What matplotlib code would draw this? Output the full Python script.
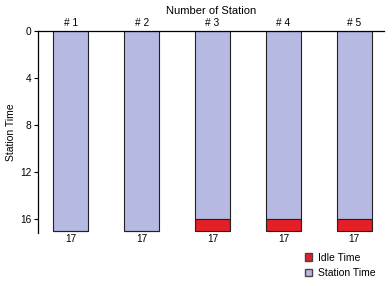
import numpy as np
import matplotlib.pyplot as plt
from matplotlib.patches import Patch

plt.rcParams['font.family'] = ['Liberation Sans', 'DejaVu Sans']

stations = ['# 1', '# 2', '# 3', '# 4', '# 5']
station_time = [17, 17, 16, 16, 16]
idle_time = [0, 0, 1, 1, 1]
totals = [s + i for s, i in zip(station_time, idle_time)]

LAV = '#b6bae2'
RED = '#e41f26'

fig = plt.figure(figsize=(3.92, 2.86), dpi=100)
ax = fig.add_axes([0.097, 0.185, 0.883, 0.707])

x = np.arange(len(stations))
w = 0.49
ax.bar(x, station_time, w, color=LAV, edgecolor='#222222', linewidth=0.8)
ax.bar(x, idle_time, w, bottom=station_time, color=RED, edgecolor='#222222', linewidth=0.8)

for xi, t in zip(x, totals):
    ax.text(xi, t + 0.3, str(t), ha='center', va='top', fontsize=7.3)

ax.set_ylim(17.2, 0)
ax.set_xlim(-0.46, 4.42)
ax.set_yticks([0, 4, 8, 12, 16])
ax.tick_params(axis='y', labelsize=7.3, length=3, width=0.8, pad=2)
ax.xaxis.tick_top()
ax.xaxis.set_label_position('top')
ax.set_xticks(x)
ax.set_xticklabels(stations)
ax.tick_params(axis='x', labelsize=7.3, length=0, pad=2)
ax.set_xlabel('Number of Station', fontsize=8, labelpad=3)
ax.set_ylabel('Station Time', fontsize=7.5, labelpad=3)

for s in ['right', 'bottom']:
    ax.spines[s].set_visible(False)
for s in ['left', 'top']:
    ax.spines[s].set_linewidth(0.9)

handles = [Patch(facecolor=RED, edgecolor='#444444', label='Idle Time'),
           Patch(facecolor=LAV, edgecolor='#444444', label='Station Time')]
fig.legend(handles=handles, loc='upper left', bbox_to_anchor=(0.765, 0.135),
           frameon=False, fontsize=7.5, handlelength=0.7, handleheight=0.7,
           handletextpad=0.5, labelspacing=0.5, borderpad=0)

plt.savefig('out.png', dpi=100)
